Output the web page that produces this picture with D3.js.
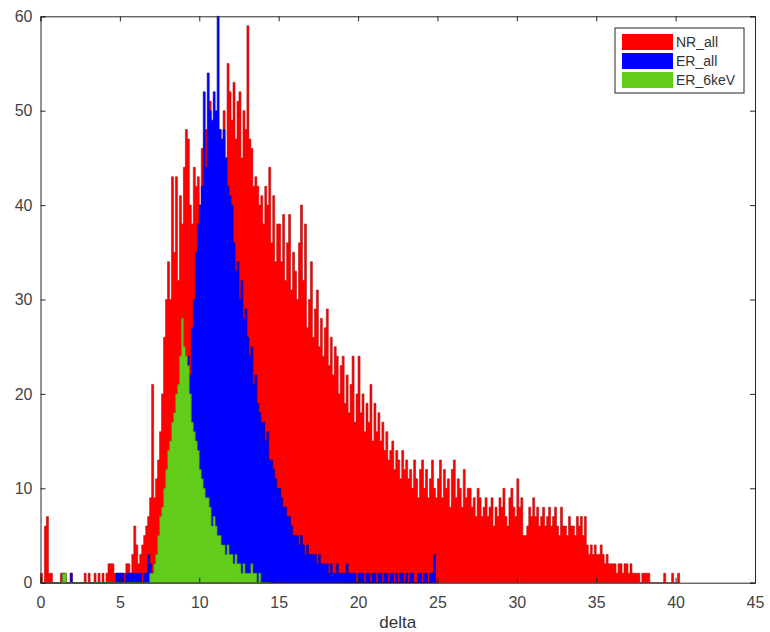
<!DOCTYPE html>
<html>
<head>
<meta charset="utf-8">
<script src="https://cdn.jsdelivr.net/npm/d3@7"></script>
<style>
  body { margin: 0; background: #fff; }
  text { font-family: "Liberation Sans", Arial, sans-serif; }
</style>
</head>
<body>
<svg id="hist" width="770" height="632"></svg>
<script>
// bin width of all three histograms, bins start at 0
const binWidth = 0.125;

// NR_all counts, one row per unit of delta
const nrAll = [
  1,0,6,7,1,1,0,0,  0,0,1,1,1,0,0,1,  0,0,0,0,0,0,1,0,  1,0,0,1,0,1,0,1,
  0,1,2,2,2,1,1,1,  1,1,1,2,2,1,3,6,  4,2,3,4,5,6,7,9,  21,9,11,13,16,20,26,30,
  34,30,43,35,43,32,41,38,  44,48,47,40,38,44,42,43,  40,46,42,48,44,51,45,47,
  44,46,48,43,50,45,55,52,  49,53,47,51,52,45,50,48,  59,47,46,42,43,42,40,41,
  38,42,40,44,36,41,34,38,  38,34,39,32,36,39,31,35,  33,30,36,40,32,38,27,30,
  34,26,29,31,25,28,24,27,  29,23,26,22,25,24,20,23,  24,19,22,18,21,24,17,20,
  24,18,20,16,19,17,21,15,  19,16,18,15,17,14,16,13,  14,15,12,14,13,11,14,12,
  13,11,12,10,13,11,9,12,  13,10,12,9,11,13,10,9,  11,13,9,12,10,11,8,12,
  13,9,11,10,8,12,9,10,  10,8,9,7,10,9,7,8,  9,7,8,9,6,8,7,9,
  8,10,7,6,9,10,8,7,  11,8,9,5,5,6,8,7,  9,7,8,6,7,8,6,7,
  8,6,7,8,6,5,8,6,  6,5,7,6,6,5,7,6,  7,5,7,4,3,4,3,4,
  3,3,4,3,2,3,2,2,  2,2,1,2,2,1,2,2,  1,2,1,1,1,1,0,1,
  1,1,1,0,0,0,0,0,  0,0,1,0,0,0,1,0,  0,1
];

// ER_all counts
const erAll = [
  0,0,0,0,0,0,0,0,  0,0,0,1,0,0,0,1,  0,0,0,0,0,0,0,0,  0,0,0,0,0,0,0,0,
  0,0,0,0,0,0,1,1,  1,1,0,1,1,1,1,1,  1,1,1,0,1,1,3,2,  1,2,2,3,3,4,5,6,
  7,8,10,11,13,14,16,18,  19,21,24,22,27,30,35,38,  40,42,52,44,54,50,49,52,
  50,60,48,47,48,45,42,41,  40,36,33,34,30,32,28,29,  26,24,25,21,22,19,18,17,
  17,15,16,13,13,12,11,10,  10,9,8,8,7,7,6,5,  5,5,4,5,4,3,4,3,
  3,3,3,2,3,2,2,2,  2,1,2,1,1,2,1,1,  1,1,2,1,1,1,1,0,
  1,1,1,0,1,1,0,1,  1,0,1,1,0,1,1,0,  1,1,0,1,0,1,1,0,
  1,0,1,1,0,0,1,1,  0,1,1,0,1,1,3,0
];

// ER_6keV counts
const er6keV = [
  0,0,0,0,0,0,0,0,  0,0,0,1,1,0,0,0,  0,0,0,0,0,0,0,0,  0,0,0,0,0,0,0,0,
  0,0,0,0,0,0,0,0,  0,0,0,0,0,0,0,0,  0,0,0,0,0,0,0,1,  1,2,3,5,7,8,10,12,
  14,15,17,18,20,21,24,28,  25,24,23,20,17,16,15,14,  12,11,10,9,9,8,6,7,
  6,5,5,4,4,3,4,3,  3,2,3,2,2,1,2,1,  1,1,2,1,1,0,1,0,  0,0,0,0
];

const seriesNames = ["NR_all", "ER_all", "ER_6keV"];
const seriesColors = ["#ff0000", "#0000ff", "#62cc1a"];
const edgeColors = ["#b01010", "#00009a", "#3f9a10"];
const xTicks = [0, 5, 10, 15, 20, 25, 30, 35, 40, 45];
const yTicks = [0, 10, 20, 30, 40, 50, 60];

const svg = d3.select("#hist");
const plotLeft = 40.5, plotRight = 755, plotTop = 16.3, plotBottom = 582.7;

const x = d3.scaleLinear().domain([0, 45]).range([plotLeft, plotRight]);
const y = d3.scaleLinear().domain([0, 60]).range([plotBottom, plotTop]);

// step outline for one histogram
const area = d3.area()
  .curve(d3.curveStepAfter)
  .x(d => x(d.x))
  .y0(y(0))
  .y1(d => y(d.v));

[nrAll, erAll, er6keV].forEach((counts, k) => {
  const pts = counts.map((v, i) => ({ x: i * binWidth, v: v }));
  pts.push({ x: counts.length * binWidth, v: 0 });
  svg.append("path")
    .datum(pts)
    .attr("d", area)
    .attr("fill", seriesColors[k])
    .attr("stroke", edgeColors[k])
    .attr("stroke-width", 0.6)
    .attr("stroke-linejoin", "miter");
});

// axes (matlab box, ticks inward)
const axisColor = "#262626";
const labelColor = "#444";

const gx = svg.append("g").attr("transform", "translate(0," + plotBottom + ")")
  .call(d3.axisBottom(x).tickValues(xTicks).tickSize(-5).tickPadding(14));
const gy = svg.append("g").attr("transform", "translate(" + plotLeft + ",0)")
  .call(d3.axisLeft(y).tickValues(yTicks).tickSize(-5).tickPadding(8));
const gt = svg.append("g").attr("transform", "translate(0," + plotTop + ")")
  .call(d3.axisTop(x).tickValues(xTicks).tickSize(-5).tickFormat(""));
const gr = svg.append("g").attr("transform", "translate(" + plotRight + ",0)")
  .call(d3.axisRight(y).tickValues(yTicks).tickSize(-5).tickFormat(""));

[gx, gy, gt, gr].forEach(g => {
  g.selectAll("path.domain").attr("stroke", axisColor).attr("stroke-width", 1);
  g.selectAll(".tick line").attr("stroke", axisColor);
  g.selectAll(".tick text").attr("fill", labelColor).style("font-size", "16px")
    .style("font-family", "'Liberation Sans', Arial, sans-serif");
});

svg.append("text")
  .attr("x", (plotLeft + plotRight) / 2)
  .attr("y", 628)
  .attr("text-anchor", "middle")
  .attr("fill", "#333")
  .style("font-size", "17px")
  .text("delta");

// legend
const legend = svg.append("g").attr("transform", "translate(615,28)");
legend.append("rect")
  .attr("width", 129).attr("height", 65)
  .attr("fill", "#fff").attr("stroke", axisColor).attr("stroke-width", 1);

seriesNames.forEach((name, i) => {
  const row = legend.append("g").attr("transform", "translate(7," + (6 + i * 19) + ")");
  row.append("rect")
    .attr("width", 51).attr("height", 16)
    .attr("fill", seriesColors[i]);
  row.append("text")
    .attr("x", 54).attr("y", 13)
    .attr("fill", "#333")
    .style("font-size", "14px")
    .text(name);
});
</script>
</body>
</html>
